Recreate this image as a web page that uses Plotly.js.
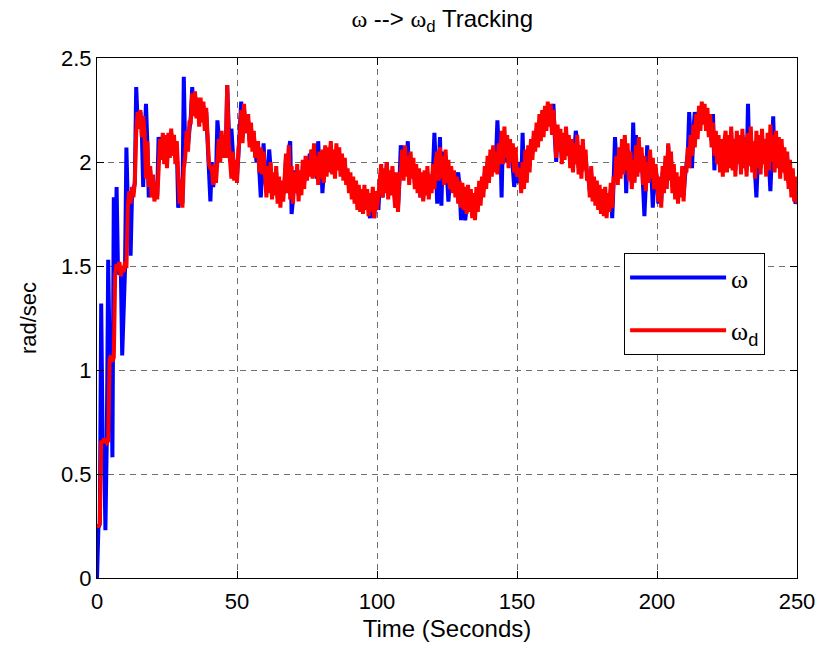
<!DOCTYPE html>
<html>
<head>
<meta charset="utf-8">
<script src="https://cdn.plot.ly/plotly-3.0.1.min.js"></script>
<style>html,body{margin:0;padding:0;background:#fff;}#chart{width:822px;height:648px;}</style>
</head>
<body>
<div id="chart"></div>
<script>
// sample spacing of both recorded signals (seconds)
const DT = 0.5;

// omega_d (desired angular rate, rad/sec), one value every 0.5 s from t = 0 to 250
const omegaD = [
  0.25,0.25,0.26,
  0.66,0.65,0.67,0.66,0.65,0.66,
  1.05,1.07,1.04,1.06,
  1.46,1.51,1.48,1.52,1.45,1.50,1.47,1.52,1.49,
  1.78,1.86,1.80,1.88,1.83,1.90,
  2.14,2.24,2.16,2.25,2.12,2.22,
  2.14,1.92,2.10,1.88,1.98,1.83,1.94,1.81,1.90,1.82,
  1.96,2.11,2.01,2.14,1.99,2.13,1.97,2.14,2.02,2.16,2.03,2.13,1.99,2.10,
  1.94,1.80,1.92,1.78,1.97,
  2.02,2.15,2.05,2.19,
  2.19,2.33,2.22,2.34,2.21,2.31,2.17,2.31,2.19,2.29,2.15,2.26,
  2.13,1.99,1.97,1.97,1.89,1.99,1.90,2.05,
  2.11,2.00,2.15,2.02,2.13,2.02,
  2.37,2.10,
  2.03,1.92,2.05,1.91,2.01,1.90,2.06,
  2.12,2.25,2.09,2.28,2.14,2.17,2.23,2.07,2.19,2.05,2.15,
  2.02,2.04,2.10,1.95,2.07,1.94,2.05,
  1.96,1.83,1.98,1.85,2.00,1.82,1.95,1.84,1.98,1.80,1.93,1.78,1.91,1.81,
  1.92,2.04,1.85,2.08,1.82,1.98,1.80,1.95,1.85,1.99,1.81,1.96,1.84,2.01,1.87,2.03,1.91,
  2.01,1.93,2.06,1.92,2.09,1.93,2.03,1.89,2.05,1.92,2.06,1.90,2.08,1.93,2.07,1.95,2.10,1.94,2.06,1.92,2.09,1.96,2.07,1.93,2.04,1.91,2.02,1.89,
  1.97,1.85,1.95,1.82,1.93,1.80,1.91,1.77,1.89,1.76,1.87,1.75,1.89,1.77,1.87,1.74,1.85,1.76,1.88,1.73,1.86,1.77,
  1.84,
  1.87,1.99,1.83,1.97,1.85,2.00,1.82,1.96,1.84,1.98,1.87,1.78,1.95,1.76,1.93,
  1.95,2.06,1.91,2.08,1.93,2.03,1.89,2.05,1.92,2.02,1.87,1.99,
  1.85,1.97,1.83,1.95,1.81,1.96,1.84,1.98,1.82,1.94,1.85,1.99,1.87,2.01,
  2.05,1.91,2.07,1.92,2.03,1.89,2.06,1.90,2.01,1.87,1.98,1.85,1.96,1.83,
  1.93,1.80,1.91,1.78,1.90,1.77,1.88,1.75,1.89,1.76,1.87,1.73,1.85,1.72,1.88,1.76,1.91,1.79,1.93,1.83,
  1.98,1.87,2.03,1.90,2.06,1.93,2.08,1.95,2.05,1.94,
  2.09,1.99,2.15,1.99,2.17,2.02,2.13,1.97,2.11,2.00,2.09,1.95,2.07,1.93,
  1.95,1.97,1.85,2.00,1.87,2.06,1.90,2.08,1.95,2.11,
  2.01,2.15,2.05,2.19,2.07,2.23,2.10,2.25,2.12,2.27,2.15,2.29,2.17,2.28,2.13,2.25,
  2.15,2.02,2.18,2.05,2.16,1.99,2.14,2.01,2.17,2.03,2.13,1.97,2.11,1.95,2.09,1.99,2.13,1.94,2.08,1.92,2.11,1.96,2.06,1.91,
  1.95,1.83,1.98,1.81,1.93,1.79,1.91,1.77,1.89,1.75,1.87,1.74,1.88,1.73,1.85,1.76,1.90,1.78,1.93,
  1.91,2.03,1.89,2.07,1.92,2.11,1.94,2.13,1.96,2.09,1.91,2.05,1.87,2.01,1.90,2.08,1.93,2.12,1.95,2.07,1.89,2.03,1.86,2.00,1.90,2.06,1.92,2.02,1.87,1.99,1.89,
  1.81,1.93,1.78,1.98,1.85,2.03,1.87,2.09,1.91,2.05,1.85,1.99,1.82,1.95,1.80,1.93,1.83,1.98,1.81,1.96,
  1.95,2.07,1.97,2.13,2.03,2.18,2.07,2.23,2.11,2.27,2.15,2.29,2.18,2.28,2.15,2.26,
  2.12,2.23,2.07,2.19,2.03,2.15,1.99,2.13,1.95,2.11,1.93,2.09,
  2.15,1.95,2.13,1.97,2.17,1.96,2.11,1.93,2.15,1.99,2.13,1.94,2.16,1.97,2.12,1.93,2.14,1.98,2.17,1.95,2.10,1.92,2.15,1.97,2.13,1.94,2.16,1.99,2.11,1.93,2.14,1.96,2.18,2.00,2.13,1.95,2.15,1.97,2.12,1.92,2.11,1.95,
  2.07,1.91,2.05,1.87,2.01,1.83,1.97,1.81,1.93,1.80
];

// omega (measured angular rate, rad/sec), one value every 0.5 s from t = 0 to 250
const omega = [
  0.00,0.24,0.26,
  1.32,0.67,0.66,0.23,0.67,1.53,
  1.05,1.08,0.58,1.83,
  1.50,1.88,1.48,1.46,1.49,1.07,1.32,1.48,2.07,
  1.80,1.85,1.55,1.84,1.86,1.90,
  2.36,2.20,2.22,2.24,2.15,1.88,
  2.12,2.28,2.08,1.83,1.96,1.85,1.92,1.83,1.88,1.84,
  2.12,2.08,2.04,2.12,2.02,2.10,2.00,2.12,2.05,2.14,2.06,2.10,2.02,2.08,
  1.78,1.82,1.90,1.80,2.41,
  2.05,2.12,2.08,2.16,
  2.22,2.36,2.26,2.32,2.25,2.28,2.20,2.29,2.22,2.27,2.18,2.24,
  2.10,2.02,1.81,2.00,1.88,1.96,1.93,2.20,
  2.08,2.04,2.12,2.06,2.10,2.05,
  2.37,2.10,
  2.00,2.16,2.02,1.94,1.98,1.93,2.03,
  2.15,2.29,2.12,2.26,2.18,2.14,2.20,2.10,2.16,2.08,2.12,
  2.05,2.00,2.07,1.98,1.83,1.97,2.09,
  1.93,1.86,1.95,2.06,1.97,1.85,1.92,1.87,1.95,1.83,1.90,1.81,1.88,1.84,
  1.90,2.02,1.88,2.06,2.10,1.75,1.82,1.96,1.88,1.96,1.84,1.93,1.87,1.98,1.90,2.00,1.94,
  1.98,2.04,1.95,2.06,1.96,2.00,1.92,2.10,1.95,2.03,1.85,1.99,2.05,1.96,2.04,1.98,2.08,1.97,2.03,1.95,2.06,1.99,2.04,1.96,2.01,1.94,1.99,1.92,
  1.94,1.88,1.92,1.85,1.90,1.83,1.88,1.80,1.86,1.79,1.84,1.78,1.86,1.80,1.84,1.77,1.73,1.82,1.85,1.73,1.83,1.80,
  1.77,
  1.90,1.96,1.83,1.94,1.88,2.00,1.85,1.93,1.87,1.95,1.90,1.80,1.92,1.78,1.90,
  2.08,2.03,1.94,2.05,1.96,2.10,1.92,2.02,1.95,1.99,1.90,1.96,
  1.88,1.94,1.83,1.92,1.82,1.93,1.87,1.95,1.85,1.91,1.88,1.96,2.14,1.98,
  1.80,1.94,2.12,1.79,2.05,1.92,2.03,1.93,1.81,1.90,1.95,1.88,1.93,1.86,
  1.90,1.95,1.88,1.72,1.87,1.80,1.72,1.78,1.86,1.79,1.78,1.76,1.82,1.75,1.85,1.79,1.88,1.82,1.90,1.86,
  1.95,1.90,2.00,1.93,2.03,1.96,2.05,1.98,2.02,2.20,
  2.06,2.12,1.83,2.14,2.05,2.10,2.00,2.08,2.03,2.06,1.98,1.88,1.96,1.90,
  1.92,2.00,1.88,2.14,1.90,2.03,1.93,2.05,1.98,2.08,
  2.04,2.12,2.08,2.16,2.10,2.20,2.13,2.22,2.15,2.24,2.18,2.27,2.20,2.25,2.16,2.28,
  2.12,2.00,2.15,2.08,2.13,2.02,2.11,2.04,2.14,2.06,2.10,2.00,2.08,1.98,2.06,2.15,2.10,1.97,2.05,1.95,2.08,1.99,2.03,1.94,
  1.92,1.86,1.95,1.83,1.90,1.82,1.88,1.80,1.86,1.78,1.84,1.77,1.85,1.76,1.82,1.79,1.87,1.73,1.90,
  2.12,2.00,1.92,2.04,1.95,2.08,1.97,2.10,1.85,2.06,1.94,2.02,1.90,2.19,1.93,2.13,1.96,2.09,1.98,2.04,1.92,1.74,1.89,2.08,1.93,2.03,1.95,1.78,1.90,1.96,1.92,
  1.80,1.90,1.81,1.95,1.88,2.00,1.90,2.08,1.94,2.02,1.88,1.96,1.85,1.92,1.83,1.90,1.86,1.95,1.84,1.93,
  1.98,2.04,2.24,2.10,1.97,2.15,2.24,2.20,2.14,2.24,2.18,2.27,2.21,2.25,2.18,2.23,
  2.15,2.20,2.10,2.23,1.96,2.12,2.02,2.10,1.98,2.08,1.96,2.06,
  2.12,1.98,2.10,2.00,2.14,1.99,2.08,1.96,2.12,2.02,2.10,1.97,2.13,2.00,2.09,1.96,2.28,2.01,2.14,1.98,2.07,1.95,1.83,2.00,2.10,1.97,2.13,2.02,2.08,1.96,2.11,1.99,1.86,2.03,2.22,1.98,2.12,2.00,2.09,1.95,2.08,1.98,
  2.04,1.94,2.02,1.90,1.98,1.86,1.94,1.84,1.80,1.82
];

const xTicks = [0, 50, 100, 150, 200, 250];
const yTicks = [0, 0.5, 1, 1.5, 2, 2.5];
const xTickLabels = ['0', '50', '100', '150', '200', '250'];
const yTickLabels = ['0', '0.5', '1', '1.5', '2', '2.5'];

const W = '<span style="font-family:Liberation Serif">ω</span>';

const tOmega = omega.map((_, i) => i * DT);
const tOmegaD = omegaD.map((_, i) => i * DT);

const traces = [
  {x: tOmega, y: omega, type: 'scatter', mode: 'lines', name: W,
   legendgroup: 'a', line: {color: '#0000FF', width: 4}},
  {x: tOmegaD, y: omegaD, type: 'scatter', mode: 'lines', name: W + '<sub>d</sub>',
   legendgroup: 'b', line: {color: '#FF0000', width: 4}}
];

const axisCommon = {
  showline: true, linecolor: '#000', linewidth: 1, mirror: 'ticks',
  ticks: 'inside', ticklen: 7, tickcolor: '#000',
  showgrid: true, gridcolor: '#6e6e6e', griddash: '6px,5px', gridwidth: 1,
  zeroline: false,
  tickfont: {family: 'Liberation Sans, Arial', size: 22, color: '#000'}
};

const layout = {
  width: 822, height: 648,
  margin: {l: 97, r: 25, t: 58, b: 70},
  paper_bgcolor: '#fff', plot_bgcolor: '#fff',
  font: {family: 'Liberation Sans, Arial', color: '#000'},
  title: {text: W + ' --> ' + W + '<sub>d</sub> Tracking', x: 0.538, xanchor: 'center',
          y: 0.972, yanchor: 'middle', font: {size: 24, color: '#000'}},
  xaxis: Object.assign({}, axisCommon, {
    range: [0, 250], tickvals: xTicks, ticktext: xTickLabels, ticklabelstandoff: 4,
    title: {text: 'Time (Seconds)', font: {size: 24}, standoff: 6}
  }),
  yaxis: Object.assign({}, axisCommon, {
    range: [0, 2.5], tickvals: yTicks, ticktext: yTickLabels,
    title: {text: 'rad/sec', font: {size: 22}, standoff: 18}
  }),
  showlegend: true,
  legend: {
    x: 0.753, y: 0.625, xanchor: 'left', yanchor: 'top',
    bgcolor: '#fff', bordercolor: '#000', borderwidth: 1,
    font: {family: 'Liberation Sans, Arial', size: 26, color: '#000'},
    traceorder: 'grouped', tracegroupgap: 16, itemwidth: 96
  }
};

Plotly.newPlot('chart', traces, layout, {displayModeBar: false, staticPlot: true});
</script>
</body>
</html>
